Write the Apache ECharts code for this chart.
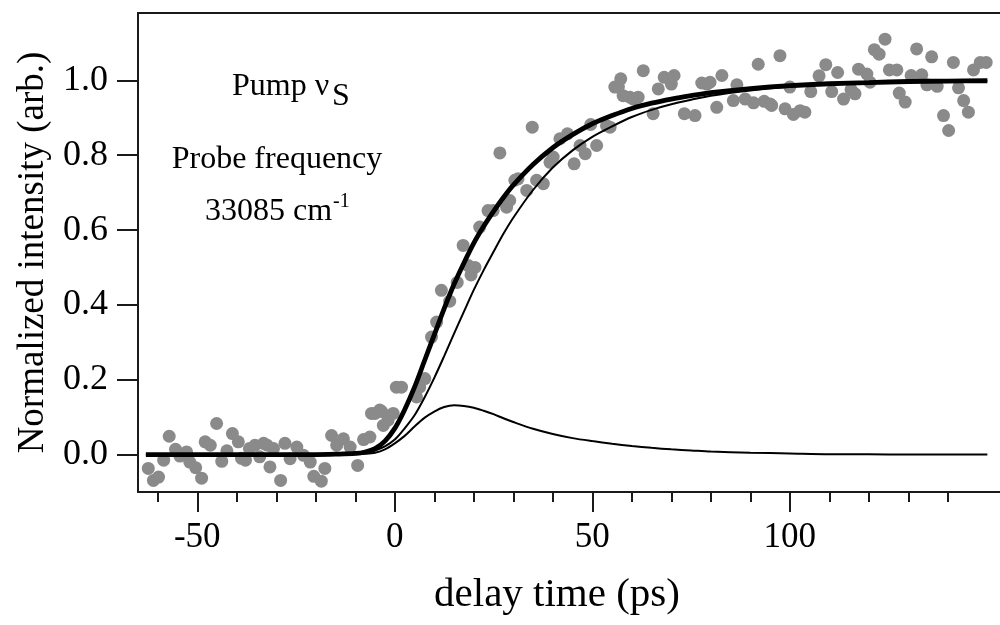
<!DOCTYPE html>
<html>
<head>
<meta charset="utf-8">
<script src="https://cdn.jsdelivr.net/npm/echarts@6/dist/echarts.min.js"></script>
<style>
html,body{margin:0;padding:0;background:#fff;}
#chart{width:1000px;height:625px;}
</style>
</head>
<body>
<div id="chart"></div>
<script>
// ---- data ----
const scatterTimes = [
  -62.4,-61.1,-59.8,-58.5,-57.1,-55.5,-54.4,-52.7,-51.9,-50.4,-48.9,-48,-46.7,-45.1,-43.8,-42.5,-41.1,-39.6,-38.8,-37.8,-36.8,-35.4,-34.2,-33.2,-32.3,-31.6,-30.7,-28.9,-27.8,-26.5,-24.8,-23.1,-21.4,-20.5,-18.6,-17.7,-16,-14.7,-13,-11.3,-9.4,-7.9,-6.3,-5.9,-5,-3.8,-3.3,-2.9,-1.7,-0.4,0.4,1.7,5.5,6.3,7.6,9.3,10.6,11.8,13.9,15.8,17.3,18.6,19.3,20.3,21.5,23.6,24.9,26.6,28.3,29.1,30.4,31.2,33.4,34.8,35.9,37.6,39.3,40.1,41.8,43.7,45.4,46.9,48.2,49.6,51.1,53.6,54.5,55.7,56.6,57.2,57.8,59.5,60.4,61.6,62.9,65.4,66.7,68.2,70,70.7,73.3,76,77.7,79,79.8,81.5,82.8,85.7,86.6,88.7,90.8,92,93.5,95,95.4,97.5,98.8,100,100.9,102.6,103.8,105.3,107.4,109.1,110.6,112.1,113.6,115.5,116.5,117.4,119.5,120.3,121.4,122.6,124.1,125.2,127.1,127.7,129.2,130.7,132.1,133.4,134.7,135.9,137.3,138.9,140.2,141.4,142.7,144,145.2,146.5,148.2,149.7
];
const scatterValues = [
  -0.037,-0.069,-0.06,-0.015,0.049,0.014,-0.004,0.007,-0.02,-0.035,-0.063,0.034,0.025,0.083,-0.018,0.01,0.056,0.034,-0.01,-0.015,0.016,0.025,-0.006,0.03,0.025,-0.033,0.016,-0.069,0.03,-0.011,0.02,-0.002,-0.02,-0.058,-0.071,-0.037,0.051,0.025,0.042,0.02,-0.029,0.04,0.047,0.11,0.11,0.119,0.115,0.078,0.092,0.11,0.18,0.18,0.154,0.18,0.203,0.314,0.354,0.439,0.41,0.46,0.559,0.505,0.48,0.5,0.608,0.652,0.652,0.806,0.661,0.679,0.733,0.737,0.706,0.875,0.733,0.724,0.781,0.795,0.844,0.857,0.777,0.826,0.804,0.882,0.826,0.879,0.875,0.982,0.982,1.004,0.959,0.955,0.95,0.955,1.026,0.911,0.977,1.008,0.99,1.013,0.911,0.906,0.993,0.99,0.995,0.928,1.013,0.946,0.988,0.95,0.94,1.043,0.944,0.937,0.933,1.066,0.924,0.982,0.909,0.919,0.915,0.97,1.012,1.042,0.97,1.021,0.95,0.975,0.964,1.03,1.017,0.995,1.082,1.07,1.11,1.028,1.028,0.966,0.942,1.013,1.084,1.015,0.988,1.063,0.984,0.906,0.866,1.048,0.98,0.946,0.915,1.028,1.048,1.048
];
const fitTimes = [-63,-50,-40,-30,-20,-15,-10,-7.5,-5,-2.5,0,2.5,5,7.5,10,12.5,15,17.5,20,22.5,25,27.5,30,35,40,45,50,55,60,65,70,75,80,90,100,110,120,130,140,150];
const fitTotal = [0,0,0,0,0,0.001,0.003,0.007,0.016,0.036,0.07,0.12,0.18,0.25,0.32,0.39,0.455,0.512,0.565,0.61,0.65,0.687,0.72,0.775,0.82,0.855,0.884,0.906,0.925,0.939,0.95,0.959,0.967,0.978,0.986,0.991,0.994,0.997,0.998,0.999];
const fitDelayed = [0,0,0,0,0,0.001,0.002,0.005,0.011,0.022,0.04,0.07,0.105,0.152,0.205,0.263,0.323,0.382,0.44,0.493,0.542,0.59,0.633,0.707,0.767,0.813,0.849,0.877,0.902,0.921,0.936,0.948,0.959,0.973,0.983,0.99,0.993,0.997,0.998,0.999];
const fitTransient = [0,0,0,0,0,0,0.001,0.002,0.005,0.014,0.03,0.05,0.075,0.098,0.115,0.127,0.132,0.13,0.125,0.117,0.108,0.097,0.087,0.069,0.055,0.044,0.036,0.029,0.023,0.018,0.014,0.011,0.008,0.005,0.003,0.001,0.001,0,0,0];
const xMajorTicks = [-50,0,50,100];
const xMinorTicks = [-60,-40,-30,-20,-10,10,20,30,40,60,70,80,90,110,120,130,140];
const yTicks = [0,0.2,0.4,0.6,0.8,1.0];

// ---- build chart ----
const FONT = '"Liberation Serif", "Times New Roman", serif';
const AX = '#1a1a1a';
const pairs = (xs, ys) => xs.map((x, i) => [x, ys[i]]);
const XMIN = -65, XMAX = 153.2;

const chart = echarts.init(document.getElementById('chart'), null, {renderer: 'canvas'});
const lineSeries = (vals, width, z) => ({
  type: 'line', xAxisIndex: 0, yAxisIndex: 0,
  data: pairs(fitTimes, vals),
  showSymbol: false, smooth: 0.3,
  lineStyle: {color: '#000', width: width}, z: z
});
const option = {
  animation: false,
  backgroundColor: '#fff',
  grid: {left: 138, right: 0, top: 13, bottom: 133, containLabel: false},
  xAxis: [
    {
      type: 'value', min: XMIN, max: XMAX, position: 'bottom',
      axisLine: {show: true, onZero: false, lineStyle: {color: AX, width: 2}},
      axisTick: {show: true, inside: false, length: 20, customValues: xMajorTicks, lineStyle: {color: AX, width: 2}},
      axisLabel: {show: true, customValues: xMajorTicks, margin: 28, fontFamily: FONT, fontSize: 35, color: '#000', formatter: v => String(v)},
      splitLine: {show: false},
      name: 'delay time (ps)', nameLocation: 'middle', nameGap: 83,
      nameTextStyle: {fontFamily: FONT, fontSize: 41, color: '#000', padding: [0, 24, 0, 0]}
    },
    {
      type: 'value', min: XMIN, max: XMAX, position: 'bottom',
      axisLine: {show: false, onZero: false},
      axisTick: {show: true, inside: false, length: 10, customValues: xMinorTicks, lineStyle: {color: AX, width: 2}},
      axisLabel: {show: false},
      splitLine: {show: false}
    },
    {
      type: 'value', min: XMIN, max: XMAX, position: 'top',
      axisLine: {show: true, onZero: false, lineStyle: {color: AX, width: 2}},
      axisTick: {show: false}, axisLabel: {show: false}, splitLine: {show: false}
    }
  ],
  yAxis: [{
    type: 'value', min: -0.1, max: 1.18, position: 'left',
    axisLine: {show: true, onZero: false, lineStyle: {color: AX, width: 2}},
    axisTick: {show: true, inside: false, length: 21, customValues: yTicks, lineStyle: {color: AX, width: 2}},
    axisLabel: {show: true, customValues: yTicks, margin: 30, fontFamily: FONT, fontSize: 36, color: '#000', formatter: v => v.toFixed(1)},
    splitLine: {show: false},
    name: 'Normalized intensity (arb.)', nameLocation: 'middle', nameGap: 78, nameRotate: 90,
    nameTextStyle: {fontFamily: FONT, fontSize: 37, color: '#000'}
  }],
  series: [
    {
      type: 'scatter', xAxisIndex: 0, yAxisIndex: 0,
      data: pairs(scatterTimes, scatterValues),
      symbol: 'circle', symbolSize: 13,
      itemStyle: {color: '#8a8a8a', opacity: 1},
      z: 2
    },
    lineSeries(fitTransient, 2, 3),
    lineSeries(fitDelayed, 2, 3),
    lineSeries(fitTotal, 4.8, 4)
  ],
  graphic: [
    {type: 'text', x: 232, y: 87, style: {text: 'Pump ν', font: '32px ' + FONT, fill: '#000', textVerticalAlign: 'middle', textAlign: 'left'}},
    {type: 'text', x: 332, y: 97, style: {text: 'S', font: '32px ' + FONT, fill: '#000', textVerticalAlign: 'middle', textAlign: 'left'}},
    {type: 'text', x: 277, y: 160, style: {text: 'Probe frequency', font: '32px ' + FONT, fill: '#000', textVerticalAlign: 'middle', textAlign: 'center'}},
    {type: 'text', x: 205, y: 212, style: {text: '33085 cm', font: '32px ' + FONT, fill: '#000', textVerticalAlign: 'middle', textAlign: 'left'}},
    {type: 'text', x: 333, y: 202, style: {text: '-1', font: '20px ' + FONT, fill: '#000', textVerticalAlign: 'middle', textAlign: 'left'}}
  ]
};
chart.setOption(option);
</script>
</body>
</html>
